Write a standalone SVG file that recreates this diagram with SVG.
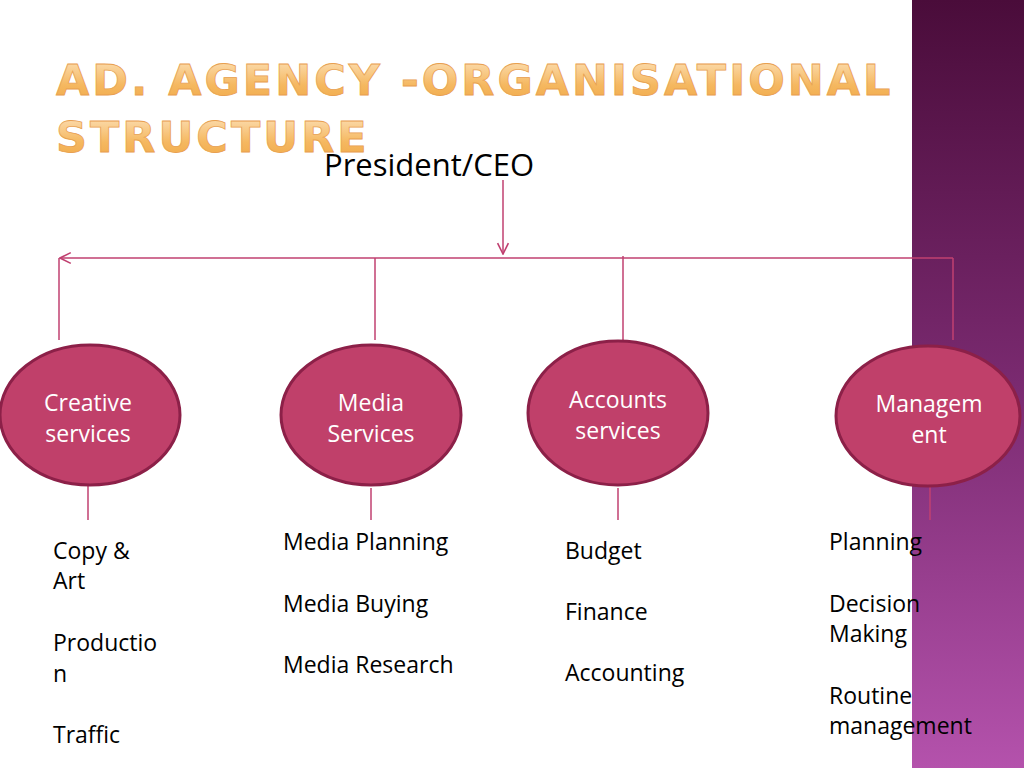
<svg xmlns="http://www.w3.org/2000/svg" width="1024" height="768" viewBox="0 0 1024 768">
<defs>
<linearGradient id="bar" x1="0" y1="0" x2="0" y2="1"><stop offset="0" stop-color="#4a0c3a"/><stop offset="0.5" stop-color="#7a2a70"/><stop offset="1" stop-color="#b452ac"/></linearGradient>
<linearGradient id="ttl" x1="0" y1="0" x2="0" y2="1"><stop offset="0" stop-color="#fde4c0"/><stop offset="0.6" stop-color="#f5b860"/><stop offset="1" stop-color="#f0a848"/></linearGradient>
<marker id="ah" viewBox="0 0 10 10" refX="9" refY="5" markerWidth="9" markerHeight="9" orient="auto-start-reverse"><path d="M1,1 L9,5 L1,9" fill="none" stroke="#c04070" stroke-width="1.2"/></marker>
</defs>
<style>
.t{font-family:"Open Sans","DejaVu Sans",sans-serif;font-size:23px;fill:#000}
.w{font-family:"Open Sans","DejaVu Sans",sans-serif;font-size:23px;fill:#fff;text-anchor:middle}
.n{fill:#c0406a;stroke:#8c2048;stroke-width:3}
.c{stroke:#c04070;stroke-width:1.5;fill:none}
</style>
<rect width="1024" height="768" fill="#fff"/>
<rect x="912" y="0" width="112" height="768" fill="url(#bar)"/>
<text x="56" y="95" font-family="'DejaVu Sans',sans-serif" font-weight="bold" font-size="43" fill="url(#ttl)" stroke="#e8a050" stroke-width="0.8" letter-spacing="3">AD. AGENCY -ORGANISATIONAL</text>
<text x="56" y="152" font-family="'DejaVu Sans',sans-serif" font-weight="bold" font-size="43" fill="url(#ttl)" stroke="#e8a050" stroke-width="0.8" letter-spacing="3">STRUCTURE</text>
<g id="president"><text x="324" y="176" font-family="'Open Sans','DejaVu Sans',sans-serif" font-size="31" fill="#000">President/CEO</text></g>
<g id="connectors">
<line class="c" x1="503" y1="180" x2="503" y2="254" marker-end="url(#ah)"/>
<line class="c" x1="953" y1="258" x2="60" y2="258" marker-end="url(#ah)"/>
<line class="c" x1="59" y1="258" x2="59" y2="340"/>
<line class="c" x1="375" y1="258" x2="375" y2="340"/>
<line class="c" x1="623" y1="256" x2="623" y2="340"/>
<line class="c" x1="953" y1="258" x2="953" y2="340"/>
<line class="c" x1="88" y1="486" x2="88" y2="520"/>
<line class="c" x1="371" y1="488" x2="371" y2="520"/>
<line class="c" x1="618" y1="488" x2="618" y2="520"/>
<line class="c" x1="930" y1="486" x2="930" y2="520"/>
</g>
<g id="creative"><ellipse class="n" cx="90" cy="415" rx="90" ry="70"/><text class="w" x="88" y="411">Creative</text><text class="w" x="88" y="442">services</text></g>
<g id="media"><ellipse class="n" cx="371" cy="415" rx="90" ry="70"/><text class="w" x="371" y="411">Media</text><text class="w" x="371" y="442">Services</text></g>
<g id="accounts"><ellipse class="n" cx="618" cy="413" rx="90" ry="72"/><text class="w" x="618" y="408">Accounts</text><text class="w" x="618" y="439">services</text></g>
<g id="management"><ellipse class="n" cx="928" cy="416" rx="92" ry="70"/><text class="w" x="929" y="412">Managem</text><text class="w" x="929" y="443">ent</text></g>
<g id="creative-items"><text class="t" x="53" y="559">Copy &amp;</text><text class="t" x="53" y="589">Art</text><text class="t" x="53" y="651">Productio</text><text class="t" x="53" y="682">n</text><text class="t" x="53" y="743">Traffic</text></g>
<g id="media-items"><text class="t" x="283" y="550">Media Planning</text><text class="t" x="283" y="612">Media Buying</text><text class="t" x="283" y="673">Media Research</text></g>
<g id="accounts-items"><text class="t" x="565" y="559">Budget</text><text class="t" x="565" y="620">Finance</text><text class="t" x="565" y="681">Accounting</text></g>
<g id="management-items"><text class="t" x="829" y="550">Planning</text><text class="t" x="829" y="612">Decision</text><text class="t" x="829" y="642">Making</text><text class="t" x="829" y="704">Routine</text><text class="t" x="829" y="734">management</text></g>
</svg>
